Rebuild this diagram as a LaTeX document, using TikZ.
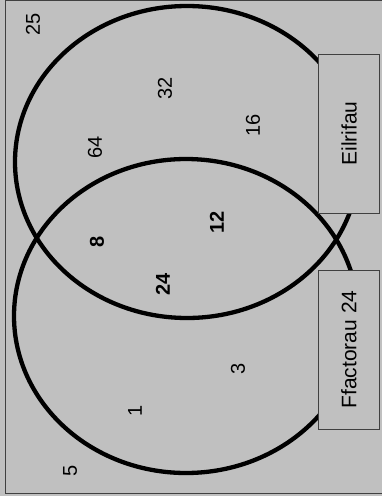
\documentclass[tikz,border=0pt]{standalone}
\usepackage{fontspec}
\setmainfont{Liberation Sans}
\usetikzlibrary{positioning}
\definecolor{venngray}{RGB}{192,192,192}
\definecolor{edgegray}{RGB}{64,64,64}

\begin{document}
\begin{tikzpicture}[
    x=1pt, y=-1pt,
    setring/.style={draw=black, line width=4.3pt},
    setlabel/.style={rectangle, draw=edgegray, fill=venngray, line width=1pt, rotate=90, minimum width=159pt, minimum height=61pt, inner sep=0pt, font=\fontsize{21}{25}\selectfont},
    count/.style={rotate=90, inner sep=1pt, font=\fontsize{20}{24}\selectfont},
    shared/.style={count, font=\fontsize{20}{24}\selectfont\bfseries}
]
\useasboundingbox (0,0) rectangle (382,496);
\fill[venngray] (0,0) rectangle (382,496);
\draw[edgegray, line width=1pt] (5,0.5) rectangle (386,493);

% the two sets
\draw[setring] (187,162) ellipse [x radius=172pt, y radius=156pt];
\draw[setring] (186,316) ellipse [x radius=172pt, y radius=157pt];

% counts
\node[count] (outside_top) at (33,24) {25};
\node[count] (e_32) at (165,88) {32};
\node[count] (e_16) at (253,125) {16};
\node[count] (e_64) at (95,147) {64};
\node[shared] (both_12) at (217,222) {12};
\node[shared] (both_8) at (97,242) {8};
\node[shared] (both_24) at (163,284) {24};
\node[count] (f_3) at (238,369) {3};
\node[count] (f_1) at (135,411) {1};
\node[count] (outside_bottom) at (70,471) {5};

% set names
\node[setlabel] (eilrifau) at (349,133.5) {Eilrifau};
\node[setlabel] (ffactorau) at (349,349.5) {Ffactorau 24};
\end{tikzpicture}
\end{document}
